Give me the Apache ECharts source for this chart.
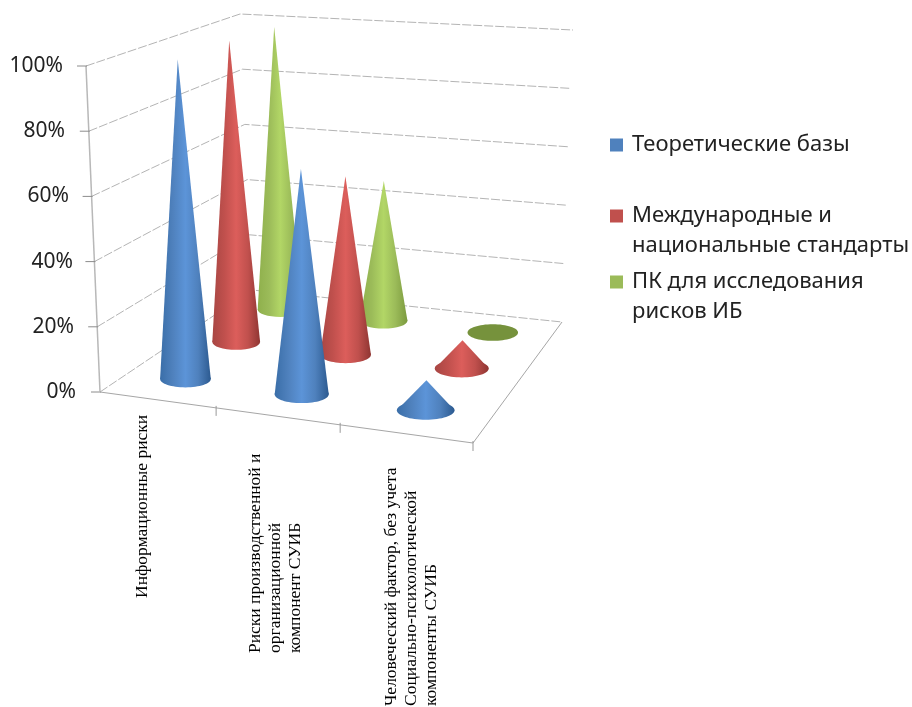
<!DOCTYPE html>
<html><head><meta charset="utf-8">
<style>html,body{margin:0;padding:0;background:#fff}#c{width:912px;height:707px;filter:blur(0.7px)}</style>
<script src="https://cdn.jsdelivr.net/npm/echarts@6/dist/echarts.min.js"></script>
</head><body><div id="c"></div>
<script>
const categories = [
  'Информационные риски',
  'Риски производственной и\nорганизационной\nкомпонент СУИБ',
  'Человеческий фактор, без учета\nСоциально-психологической\nкомпоненты СУИБ'
];
const seriesNames = ['Теоретические базы', 'Международные и\nнациональные стандарты', 'ПК для исследования\nрисков ИБ'];
const teoreticheskie = [100, 69, 9];
const standarty = [100, 58, 9];
const pkRiski = [99, 48, 0];
const yTicks = [0, 20, 40, 60, 80, 100];

// scene geometry (layout only)
const floorQuad = [[100,392],[473,443],[562,322],[252,290]];
const topQuad = [[86,66],[483,93],[573,30],[240,14]];
const labelAnchors = [[142,598],[275,653],[411,706]];
const tickLabelPad = {0:3,20:5,40:6,60:10,80:14,100:16};

function homography(q){
  const [p0,p1,p2,p3]=q;
  const dx1=p1[0]-p2[0],dx2=p3[0]-p2[0],sx=p0[0]-p1[0]+p2[0]-p3[0];
  const dy1=p1[1]-p2[1],dy2=p3[1]-p2[1],sy=p0[1]-p1[1]+p2[1]-p3[1];
  const d=dx1*dy2-dx2*dy1;
  const g=(sx*dy2-dx2*sy)/d,h=(dx1*sy-sx*dy1)/d;
  const a=p1[0]-p0[0]+g*p1[0],b=p3[0]-p0[0]+h*p3[0],c=p0[0];
  const e=p1[1]-p0[1]+g*p1[1],f=p3[1]-p0[1]+h*p3[1],k=p0[1];
  return (u,v)=>{const w=g*u+h*v+1;return [(a*u+b*v+c)/w,(e*u+f*v+k)/w];};
}
const H0=homography(floorQuad),H1=homography(topQuad);
function pt(u,v,t){const a=H0(u,v),b=H1(u,v);return [a[0]+(b[0]-a[0])*t,a[1]+(b[1]-a[1])*t];}

const palette=[
 {base:'#4F81BD',edgeL:'#3a6ea8',mid:'#5c94d8',edgeR:'#2c5a90',flat:'#3c6ca4'},
 {base:'#C0504D',edgeL:'#a84643',mid:'#dc5e5b',edgeR:'#8f3532',flat:'#a84643'},
 {base:'#9BBB59',edgeL:'#8fb04c',mid:'#b2d666',edgeR:'#7b9a3e',flat:'#76923C'}
];
function fraction(api,val){
  const y0=api.coord([0,0])[1],y1=api.coord([0,100])[1],y=api.coord([0,val])[1];
  return (y0-y)/(y0-y1);
}
function coneRenderer(s){
  const col=palette[s];
  return function(params,api){
    const i=api.value(0),val=api.value(1);
    const u=(i+0.5)/categories.length,v=(s+0.5)/seriesNames.length;
    const c=H0(u,v);
    const du=1/categories.length/2;
    const rx=0.225*(H0(u+du,v)[0]-H0(u-du,v)[0]);
    const ry=rx*0.33;
    if(val===0){
      return {type:'ellipse',shape:{cx:c[0],cy:c[1],rx:rx,ry:ry},style:{fill:col.flat}};
    }
    const t=fraction(api,val);
    const apex=pt(u,v,t);
    apex[0]+=3.5*t;
    const grad=new echarts.graphic.LinearGradient(0,0,1,0,[
      {offset:0,color:col.edgeL},{offset:0.25,color:col.base},{offset:0.5,color:col.mid},{offset:0.75,color:col.base},{offset:1,color:col.edgeR}]);
    return {type:'group',children:[
      {type:'ellipse',shape:{cx:c[0],cy:c[1],rx:rx,ry:ry},style:{fill:grad}},
      {type:'polygon',shape:{points:[[c[0]-rx,c[1]],[apex[0],apex[1]],[c[0]+rx,c[1]]]},style:{fill:grad}}
    ]};
  };
}
function wallRenderer(params,api){
  const val=api.value(0),t=fraction(api,val);
  const a=pt(0,0,t),b=pt(0,1,t),c=pt(1,1,t);
  const gridStyle={stroke:'#b4b4b4',lineWidth:1,lineDash:[9,2],fill:null};
  const kids=[
    {type:'polyline',shape:{points:[a,b,c]},style:gridStyle},
    {type:'line',shape:{x1:a[0]-9,y1:a[1],x2:a[0]+1,y2:a[1]},style:{stroke:'#8c8c8c',lineWidth:1}}
  ];
  if(val===0){
    const top=pt(0,0,1);
    kids.push({type:'line',shape:{x1:a[0],y1:a[1],x2:top[0],y2:top[1]},style:{stroke:'#b8b8b8',lineWidth:1.5}});
    const fr=pt(1,0,0);
    kids.push({type:'polyline',shape:{points:[a,fr,c]},style:{stroke:'#a6a6a6',lineWidth:1,fill:null}});
    for(let k=1;k<=categories.length;k++){
      const p=pt(k/categories.length,0,0);
      kids.push({type:'line',shape:{x1:p[0],y1:p[1]-2,x2:p[0],y2:p[1]+8},style:{stroke:'#999',lineWidth:1}});
    }
  }
  return {type:'group',children:kids};
}
function labelRenderer(params,api){
  const i=api.value(0),p=labelAnchors[i];
  return {type:'text',x:p[0],y:p[1],rotation:Math.PI/2,
    style:{text:categories[i],x:0,y:0,align:'left',verticalAlign:'middle',
      font:'17.5px "Liberation Serif"',fill:'#000',lineHeight:20}};
}
const cone=(s,values,z)=>({type:'custom',name:seriesNames[s],z:z,clip:false,
  renderItem:coneRenderer(s),itemStyle:{color:palette[s].base},
  encode:{x:0,y:1},data:values.map((d,i)=>[i,d])});

const legendCommon={orient:'vertical',left:605,itemWidth:13,itemHeight:13,itemGap:0,icon:'rect',selectedMode:false,
  textStyle:{fontFamily:'Noto Sans',fontSize:22,color:'#222',lineHeight:30,padding:[0,0,0,4]}};

const chart=echarts.init(document.getElementById('c'),null,{renderer:'canvas'});
chart.setOption({
  animation:false,
  backgroundColor:'#fff',
  grid:{left:87,top:66,width:480,height:326,containLabel:false},
  xAxis:{type:'category',data:categories,show:false},
  yAxis:{type:'value',min:0,max:100,interval:20,
    axisLine:{show:false},axisTick:{show:false},splitLine:{show:false},
    axisLabel:{margin:8,fontFamily:'Noto Sans',fontSize:21,color:'#222',
      formatter:v=>'{p'+v+'|'+v+'%}',
      rich:Object.fromEntries(yTicks.map(v=>['p'+v,{padding:[0,tickLabelPad[v],0,0],fontFamily:'Noto Sans',fontSize:21,color:'#222'}]))}},
  legend:[
    Object.assign({},legendCommon,{top:125,data:[seriesNames[0]]}),
    Object.assign({},legendCommon,{top:166,data:[seriesNames[1]],formatter:n=>'\n'+n}),
    Object.assign({},legendCommon,{top:232,data:[seriesNames[2]],formatter:n=>'\n'+n})
  ],
  series:[
    {type:'custom',name:'walls',z:1,clip:false,renderItem:wallRenderer,encode:{x:1,y:0},data:yTicks.map(v=>[v,0])},
    {type:'custom',name:'labels',z:1,clip:false,renderItem:labelRenderer,encode:{x:0,y:1},data:categories.map((c,i)=>[i,0])},
    cone(2,pkRiski,2),
    cone(1,standarty,3),
    cone(0,teoreticheskie,4)
  ]
});
</script></body></html>
